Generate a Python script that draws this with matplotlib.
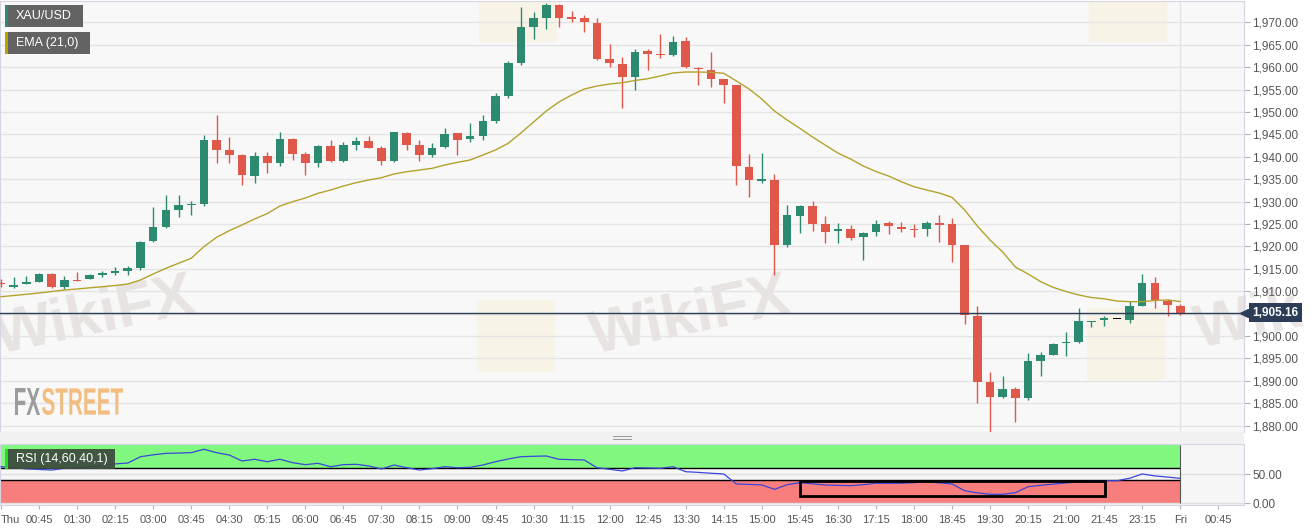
import numpy as np
import matplotlib.pyplot as plt
from matplotlib.patches import Rectangle, FancyBboxPatch, PathPatch
from matplotlib.ticker import FuncFormatter
from matplotlib.textpath import TextPath
from matplotlib.font_manager import FontProperties
from matplotlib.transforms import Affine2D, IdentityTransform

plt.rcParams['font.family'] = ['Liberation Sans', 'DejaVu Sans']

# XAU/USD 15-minute candles, Thu 00:00 -> Fri 00:00
opens = [1911.8, 1911.0, 1911.6, 1912.1, 1913.8, 1911.0, 1912.5, 1912.7, 1913.7, 1914.0,
         1914.6, 1915.2, 1921.2, 1924.2, 1928.1, 1929.3, 1929.4, 1943.7, 1941.5, 1940.4,
         1935.8, 1940.2, 1938.5, 1944.0, 1940.6, 1938.7, 1942.5, 1939.0, 1942.6, 1943.5,
         1941.9, 1939.1, 1945.4, 1942.6, 1940.4, 1942.1, 1945.2, 1943.9, 1944.7, 1948.0,
         1953.6, 1961.0, 1968.9, 1970.9, 1973.9, 1971.0, 1970.9, 1969.9, 1961.8, 1960.7,
         1957.7, 1963.6, 1963.0, 1962.6, 1965.8, 1959.8, 1959.4, 1957.3, 1955.9, 1937.8,
         1934.7, 1934.8, 1920.3, 1926.8, 1929.0, 1925.0, 1923.4, 1923.8, 1922.0, 1923.1,
         1925.1, 1924.4, 1923.9, 1923.8, 1925.05, 1925.0, 1920.3, 1904.5, 1889.6, 1886.3,
         1888.2, 1886.1, 1894.5, 1895.8, 1898.5, 1898.7, 1903.2, 1903.55, 1903.95, 1903.55,
         1906.7, 1911.7, 1907.9, 1906.7]
highs = [1912.6, 1913.1, 1913.4, 1914.0, 1914.0, 1913.3, 1914.3, 1913.8, 1914.6, 1915.3,
         1915.6, 1921.2, 1928.8, 1931.5, 1931.5, 1930.1, 1944.9, 1949.3, 1944.5, 1940.6,
         1941.1, 1941.1, 1945.6, 1944.1, 1941.1, 1942.6, 1943.7, 1943.2, 1944.5, 1944.7,
         1942.5, 1945.6, 1945.5, 1943.7, 1943.1, 1946.3, 1945.4, 1947.5, 1949.3, 1954.3,
         1961.4, 1973.5, 1972.2, 1974.4, 1974.0, 1972.6, 1971.6, 1970.9, 1965.1, 1962.2,
         1964.0, 1964.0, 1967.3, 1966.9, 1966.7, 1960.1, 1963.3, 1957.4, 1956.0, 1940.5,
         1940.8, 1936.1, 1929.2, 1929.2, 1930.1, 1926.8, 1925.3, 1924.8, 1923.2, 1925.9,
         1925.7, 1925.5, 1925.0, 1925.7, 1927.0, 1926.3, 1920.4, 1906.7, 1892.0, 1891.1,
         1888.7, 1896.1, 1896.5, 1898.4, 1900.9, 1906.2, 1903.4, 1904.45, 1904.0, 1907.9,
         1913.8, 1913.1, 1908.2, 1907.1]
lows = [1910.9, 1910.7, 1911.5, 1912.0, 1910.8, 1910.5, 1912.3, 1912.6, 1913.2, 1913.6,
        1913.6, 1914.7, 1921.0, 1924.0, 1926.6, 1927.0, 1929.0, 1938.6, 1938.7, 1933.7,
        1934.1, 1936.3, 1938.0, 1939.3, 1935.9, 1937.8, 1938.9, 1938.8, 1941.5, 1941.9,
        1938.2, 1938.9, 1941.5, 1939.0, 1940.0, 1941.9, 1940.4, 1943.2, 1943.7, 1947.5,
        1953.0, 1960.5, 1966.2, 1968.4, 1968.9, 1970.1, 1967.9, 1961.6, 1960.1, 1950.8,
        1954.9, 1959.4, 1962.0, 1962.4, 1959.8, 1956.0, 1955.5, 1951.9, 1933.7, 1931.1,
        1934.2, 1913.6, 1919.8, 1923.0, 1923.5, 1920.7, 1920.7, 1921.4, 1917.0, 1922.3,
        1922.7, 1923.3, 1922.0, 1922.3, 1921.0, 1916.6, 1902.7, 1885.0, 1878.3, 1886.1,
        1880.7, 1885.7, 1891.1, 1895.7, 1895.5, 1898.4, 1901.9, 1902.2, 1903.9, 1902.8,
        1906.6, 1906.2, 1904.5, 1904.7]
closes = [1911.5, 1911.4, 1912.0, 1913.8, 1911.0, 1912.5, 1912.4, 1913.6, 1913.9, 1914.6,
          1915.2, 1921.0, 1924.2, 1928.1, 1929.2, 1929.5, 1943.7, 1941.6, 1940.4, 1935.9,
          1940.2, 1938.5, 1944.0, 1940.6, 1938.7, 1942.5, 1939.0, 1942.6, 1943.5, 1942.0,
          1939.1, 1945.5, 1942.6, 1940.4, 1941.9, 1945.1, 1943.7, 1944.7, 1948.0, 1953.6,
          1961.0, 1968.9, 1970.9, 1973.9, 1971.0, 1970.9, 1970.0, 1961.8, 1960.9, 1957.7,
          1963.4, 1962.9, 1962.6, 1965.7, 1960.0, 1959.6, 1957.3, 1955.9, 1937.9, 1934.8,
          1934.9, 1920.4, 1927.0, 1929.0, 1925.0, 1923.3, 1923.9, 1921.9, 1923.0, 1925.0,
          1924.5, 1923.9, 1923.75, 1925.1, 1924.9, 1920.4, 1904.6, 1889.7, 1886.4, 1888.2,
          1886.1, 1894.4, 1895.7, 1898.3, 1898.65, 1903.3, 1903.35, 1904.0, 1903.95, 1906.7,
          1911.7, 1908.0, 1906.8, 1905.16]

# EMA (21)
ema = [1908.75, 1909.02, 1909.29, 1909.58, 1909.91, 1910.25, 1910.47, 1910.74, 1910.98, 1911.25,
       1911.59, 1912.48, 1913.82, 1915.09, 1916.21, 1917.32, 1919.91, 1922.01, 1923.49, 1924.76,
       1926.10, 1927.32, 1929.00, 1929.96, 1930.78, 1931.83, 1932.57, 1933.46, 1934.20, 1934.80,
       1935.32, 1936.14, 1936.65, 1937.03, 1937.41, 1938.15, 1938.75, 1939.27, 1940.38, 1941.50,
       1942.99, 1945.29, 1947.75, 1950.20, 1952.21, 1953.77, 1955.11, 1955.78, 1956.23, 1956.52,
       1957.01, 1957.41, 1958.02, 1958.69, 1958.91, 1958.91, 1958.84, 1958.62, 1956.90, 1955.11,
       1952.88, 1950.20, 1948.19, 1946.34, 1944.40, 1942.61, 1940.83, 1939.49, 1937.93, 1936.70,
       1935.69, 1934.42, 1933.31, 1932.57, 1931.90, 1930.94, 1928.11, 1924.53, 1921.41, 1918.73,
       1915.38, 1913.82, 1912.10, 1910.81, 1909.91, 1909.13, 1908.57, 1908.28, 1907.79, 1907.64,
       1907.64, 1907.91, 1908.02, 1907.68]

# RSI (14)
rsi = [62.7, 61.0, 59.0, 58.0, 57.0, 60.0, 61.0, 63.0, 65.0, 67.5,
       69.0, 79.8, 83.0, 85.5, 86.0, 86.7, 92.5, 86.7, 82.7, 72.5,
       75.4, 71.3, 75.4, 69.6, 66.2, 68.5, 62.7, 66.2, 66.8, 64.0,
       58.8, 65.6, 61.0, 57.1, 59.3, 62.7, 61.0, 61.7, 65.6, 71.3,
       75.9, 79.8, 80.5, 81.0, 75.4, 74.8, 74.2, 61.0, 58.3, 55.4,
       61.0, 60.5, 60.0, 62.7, 54.2, 53.0, 51.5, 50.3, 33.2, 32.5,
       31.5, 24.1, 32.0, 35.4, 33.5, 31.5, 30.8, 30.3, 32.0, 34.4,
       34.4, 34.4, 35.5, 37.1, 35.0, 33.2, 21.7, 18.0, 15.6, 15.6,
       18.3, 28.6, 30.9, 33.0, 35.0, 37.0, 38.8, 38.8, 38.8, 42.9,
       50.3, 47.0, 45.0, 42.9]
rsi_high, rsi_low = 60, 40
box_start, box_end, box_low, box_high = 63, 87.1, 12.7, 38.8

tick_labels = ['Thu', '00:45', '01:30', '02:15', '03:00', '03:45', '04:30', '05:15', '06:00',
               '06:45', '07:30', '08:15', '09:00', '09:45', '10:30', '11:15', '12:00', '12:45',
               '13:30', '14:15', '15:00', '15:45', '16:30', '17:15', '18:00', '18:45', '19:30',
               '20:15', '21:00', '21:45', '23:15', 'Fri', '00:45']
day_break = 93

green, red = '#2b8a6f', '#e0584a'
W, H = 1315, 531


def px(l, t, r, b):
    return [l / W, 1 - b / H, (r - l) / W, (b - t) / H]


def fig_rect(l, t, r, b, **kw):
    fig.add_artist(Rectangle((l / W, 1 - b / H), (r - l) / W, (b - t) / H,
                             transform=fig.transFigure, **kw))


def squeezed_text(s, l, t, r, b, color):
    # text stretched into a pixel box (condensed logo lettering)
    tp = TextPath((0, 0), s, size=1, prop=FontProperties(family='Liberation Sans', weight='bold'))
    e = tp.get_extents()
    tr = Affine2D().translate(-e.x0, -e.y0).scale((r - l) / e.width, (b - t) / e.height) \
        .translate(l, H - b)
    ax.add_patch(PathPatch(tp, transform=tr + IdentityTransform(), fc=color, ec='none',
                           zorder=0.6, clip_on=False))


fig = plt.figure(figsize=(W / 100, H / 100), dpi=100)
fig.patch.set_facecolor('white')
ax = fig.add_axes(px(0, 1, 1244, 432))
rax = fig.add_axes(px(0, 444, 1244, 505))

o, h, l, c = map(np.array, (opens, highs, lows, closes))
x = np.arange(len(c))
col = np.where(c > o, green, np.where(c < o, red, 'black'))

ax.set_facecolor('#f8f8f8')
ax.vlines(x, l, h, colors=col, lw=1, zorder=3)
bh = np.maximum(np.abs(c - o), 0.28)
ax.bar(x, bh, width=0.68, bottom=(o + c) / 2 - bh / 2, color=col, lw=0, zorder=4)
ax.plot(x, ema, color='#b3a22c', lw=1, zorder=5)
ax.axhline(c[-1], color='#2b3d57', lw=1, zorder=5)
ax.axvline(day_break, color='#e2e2e8', lw=1, zorder=1)

ax.set_xlim(-0.08, 98.03)
ax.set_ylim(1878.55, 1974.76)
ax.set_yticks(np.arange(1880, 1971, 5))
ax.yaxis.set_major_formatter(FuncFormatter(lambda v, p: f'{v:,.2f}'))
ax.yaxis.tick_right()
ax.tick_params(axis='y', length=4, color='#b0b0c0', labelcolor='#555555', labelsize=8.5, pad=2)
ax.tick_params(axis='x', length=0, labelbottom=False)
ax.grid(axis='y', color='#e4e4e4', lw=1)
ax.set_axisbelow(True)
for s in ax.spines.values():
    s.set_color('#d4d4e2')

ax.annotate(f'{c[-1]:,.2f}', xy=(1, c[-1]), xycoords=('axes fraction', 'data'),
            xytext=(6, 0), textcoords='offset points', va='center', ha='left',
            color='white', fontweight='bold', fontsize=8.5, zorder=10,
            bbox=dict(boxstyle='square,pad=0.3', fc='#2b3d57', ec='none'), annotation_clip=False)
ax.plot([1.0], [c[-1]], marker='<', ms=6, color='#2b3d57', clip_on=False,
        transform=ax.get_yaxis_transform(), zorder=10)

# watermarks (behind the candles)
for wx, wy in [(95, 318), (690, 318)]:
    ax.text(wx / W, 1 - wy / H, 'WikiFX', transform=fig.transFigure, fontsize=44,
            fontweight='bold', color='#ddd6d3', alpha=0.6, rotation=12,
            ha='center', va='center', zorder=0.5)
ax.text(1190 / W, 1 - 322 / H, 'Wik', transform=fig.transFigure, fontsize=44,
        fontweight='bold', color='#ddd6d3', alpha=0.6, rotation=12,
        ha='left', va='center', zorder=0.5)
for lx, ly in [(484, -28), (1094, -28), (482, 302), (1092, 310)]:
    ax.add_patch(FancyBboxPatch((lx / W, 1 - (ly + 68) / H), 68 / W, 68 / H,
                                boxstyle='round,pad=0.004', transform=fig.transFigure,
                                fc='#f6ecc8', ec='none', alpha=0.35, zorder=0.4))
squeezed_text('FX', 15, 388, 40, 415, '#9c9c9c')
squeezed_text('STREET', 42, 388, 123, 415, '#f2bd80')

# RSI panel
rax.set_facecolor('#f6f6f6')
rax.add_patch(Rectangle((-0.08, rsi_high), day_break + 0.08, 100 - rsi_high, fc='#80f880', ec='none', zorder=1))
rax.add_patch(Rectangle((-0.08, 0), day_break + 0.08, rsi_low, fc='#f87d7d', ec='none', zorder=1))
rax.hlines([rsi_high, rsi_low], -0.08, day_break, colors='black', lw=1, zorder=2)
rax.vlines(day_break, 0, 100, colors='#555555', lw=0.8, zorder=2)
rax.add_patch(Rectangle((box_start, box_low), box_end - box_start, box_high - box_low,
                        fill=False, ec='black', lw=2, zorder=4))
rax.plot(x, rsi, color='#3a46d8', lw=0.9, zorder=3)
rax.set_xlim(-0.08, 98.03)
rax.set_ylim(-2.7, 101.5)
rax.set_yticks([0, 50])
rax.set_yticklabels(['0.00', '50.00'])
rax.yaxis.tick_right()
rax.grid(axis='y', color='#e0e0e0', lw=1, zorder=0)
rax.tick_params(axis='y', length=4, color='#b0b0c0', labelcolor='#555555', labelsize=8.5, pad=2)
rax.set_xticks(np.arange(0, 3 * len(tick_labels), 3))
rax.set_xticklabels(tick_labels)
rax.tick_params(axis='x', length=3, color='#b0b0c0', labelcolor='#555555', labelsize=8, pad=4)
rax.get_xticklabels()[0].set_ha('left')
for s in rax.spines.values():
    s.set_color('#d4d4e2')

# separator strip and handle
fig_rect(0, 432, 1244, 444, fc='#f1f1f1', ec='none')
fig_rect(613, 436, 632, 437, fc='#9a9a9a', ec='none')
fig_rect(613, 439, 632, 440, fc='#9a9a9a', ec='none')

# legend boxes
for (t, b, r, strip, label, fc) in [(5, 27, 83, '#2a8a73', 'XAU/USD', '#5b5b5b'),
                                    (32, 54, 90, '#b8a200', 'EMA (21,0)', '#5b5b5b'),
                                    (449, 469, 115, '#22dd22', 'RSI (14,60,40,1)', '#3d4d3d')]:
    fig_rect(5, t, r, b, fc=fc, ec='none', alpha=0.95)
    fig_rect(5, t, 8, b, fc=strip, ec='none')
    fig.text(16 / W, 1 - (t + b) / 2 / H, label, color='white', fontsize=9, va='center')

fig.savefig('out.png', dpi=100)
